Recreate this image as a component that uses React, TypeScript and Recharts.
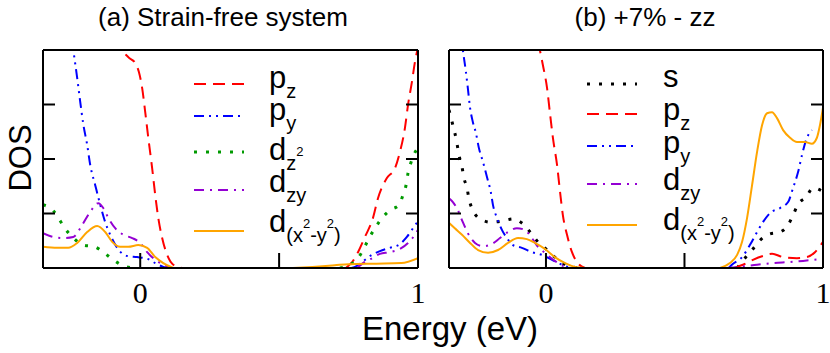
import { LineChart, Line, XAxis, YAxis, Legend } from 'recharts';

type Seg = { t: string; k: 'b' | 'sub' | 'sup' };
type Row = [number, number | null];

const energyDomain = [-0.35, 1];
const energyTicks = [0, 0.5, 1];
const energyLabels: Record<number, string> = { 0: '0', 0.5: '', 1: '1' };
const dosDomain = [0, 4];
const dosTicks = [0, 1, 2, 3, 4];

const titleA = '(a) Strain-free system';
const titleB = '(b) +7% - zz';
const xTitle = 'Energy (eV)';
const yTitle = 'DOS';

// (a) strain-free: [energy, dos], null splits the gap
const aPz: Row[] = [
  [-0.08, 4.6], [-0.061, 4.0], [-0.043, 3.87], [-0.018, 3.76], [-0.005, 3.6], [0.007, 3.3],
  [0.018, 2.86], [0.029, 2.39], [0.043, 1.83], [0.054, 1.34], [0.065, 0.92], [0.079, 0.55],
  [0.097, 0.24], [0.119, 0.06], [0.15, 0], [0.4, null],
  [0.74, 0], [0.763, 0.11], [0.784, 0.29], [0.809, 0.57], [0.838, 0.92], [0.856, 1.28],
  [0.888, 1.65], [0.917, 1.83], [0.935, 2.13], [0.953, 2.57], [0.964, 2.99], [0.978, 3.41],
  [0.989, 3.78], [1.0, 4.05],
];
const aPy: Row[] = [
  [-0.26, 4.7], [-0.241, 4.0], [-0.227, 3.49], [-0.216, 3.05], [-0.205, 2.64], [-0.191, 2.26],
  [-0.18, 1.89], [-0.162, 1.52], [-0.144, 1.16], [-0.126, 0.84], [-0.108, 0.61], [-0.083, 0.37],
  [-0.047, 0.22], [-0.011, 0.2], [0.025, 0.17], [0.054, 0.09], [0.083, 0.02], [0.1, 0], [0.4, null],
  [0.76, 0], [0.773, 0.02], [0.799, 0.11], [0.827, 0.22], [0.863, 0.31], [0.899, 0.37],
  [0.935, 0.44], [0.96, 0.57], [0.982, 0.73], [1.0, 0.86],
];
const aDz2: Row[] = [
  [-0.35, 1.16], [-0.313, 1.05], [-0.29, 0.88], [-0.27, 0.72], [-0.24, 0.55], [-0.205, 0.42],
  [-0.165, 0.39], [-0.13, 0.28], [-0.097, 0.15], [-0.061, 0.04], [-0.02, 0], [0.4, null],
  [0.719, 0], [0.755, 0.06], [0.784, 0.18], [0.806, 0.37], [0.824, 0.55], [0.845, 0.73],
  [0.871, 0.92], [0.899, 1.06], [0.932, 1.16], [0.946, 1.34], [0.957, 1.52], [0.964, 1.74],
  [0.975, 1.94], [0.99, 2.13], [1.0, 2.2],
];
const aDzy: Row[] = [
  [-0.35, 0.64], [-0.313, 0.57], [-0.277, 0.55], [-0.241, 0.57], [-0.209, 0.79], [-0.18, 1.03],
  [-0.151, 1.19], [-0.133, 1.1], [-0.115, 0.92], [-0.09, 0.73], [-0.061, 0.61], [-0.029, 0.55],
  [0, 0.46], [0.025, 0.29], [0.054, 0.15], [0.083, 0.06], [0.108, 0], [0.4, null],
  [0.78, 0], [0.802, 0.09], [0.835, 0.18], [0.863, 0.26], [0.899, 0.29], [0.935, 0.35],
  [0.964, 0.46], [0.989, 0.61], [1.0, 0.7],
];
const aDx2y2: Row[] = [
  [-0.35, 0.39], [-0.299, 0.37], [-0.259, 0.37], [-0.227, 0.46], [-0.191, 0.66], [-0.155, 0.77],
  [-0.126, 0.66], [-0.101, 0.48], [-0.072, 0.39], [-0.043, 0.39], [-0.007, 0.42], [0.025, 0.37],
  [0.054, 0.2], [0.083, 0.09], [0.119, 0], [0.4, null],
  [0.55, 0], [0.62, 0.02], [0.7, 0.05], [0.75, 0.07], [0.85, 0.08], [0.94, 0.09], [1.0, 0.18],
];

// (b) +7% zz strain
const bS: Row[] = [
  [-0.35, 2.9], [-0.339, 2.68], [-0.329, 2.48], [-0.321, 2.28], [-0.314, 2.07], [-0.303, 1.85],
  [-0.296, 1.65], [-0.285, 1.47], [-0.278, 1.27], [-0.264, 1.06], [-0.238, 0.9], [-0.199, 0.84],
  [-0.159, 0.86], [-0.119, 0.9], [-0.083, 0.81], [-0.054, 0.64], [-0.029, 0.48], [0, 0.35],
  [0.032, 0.2], [0.061, 0.09], [0.094, 0.02], [0.12, 0], [0.4, null],
  [0.69, 0], [0.718, 0.18], [0.747, 0.35], [0.773, 0.51], [0.805, 0.62], [0.845, 0.66],
  [0.874, 0.79], [0.892, 0.97], [0.91, 1.17], [0.939, 1.3], [0.964, 1.47], [1.0, 1.4],
];
const bPz: Row[] = [
  [-0.04, 4.5], [-0.022, 4.0], [-0.011, 3.72], [0.004, 3.3], [0.014, 2.86], [0.025, 2.39],
  [0.04, 1.89], [0.051, 1.39], [0.061, 0.97], [0.076, 0.61], [0.094, 0.29], [0.112, 0.11],
  [0.141, 0], [0.4, null],
  [0.68, 0], [0.69, 0.02], [0.711, 0.06], [0.747, 0.15], [0.783, 0.22], [0.816, 0.26],
  [0.856, 0.2], [0.906, 0.18], [0.942, 0.2], [0.971, 0.29], [1.0, 0.48],
];
const bPy: Row[] = [
  [-0.31, 4.4], [-0.3, 4.0], [-0.289, 3.6], [-0.282, 3.3], [-0.274, 2.94], [-0.264, 2.68],
  [-0.253, 2.48], [-0.242, 2.2], [-0.227, 1.94], [-0.213, 1.67], [-0.199, 1.39], [-0.191, 1.15],
  [-0.177, 0.92], [-0.159, 0.7], [-0.141, 0.55], [-0.119, 0.42], [-0.087, 0.37], [-0.051, 0.29],
  [-0.014, 0.24], [0.022, 0.15], [0.058, 0.06], [0.079, 0.02], [0.1, 0], [0.4, null],
  [0.66, 0], [0.671, 0.06], [0.708, 0.2], [0.736, 0.42], [0.762, 0.66], [0.783, 0.84],
  [0.809, 1.01], [0.845, 1.1], [0.874, 1.21], [0.892, 1.47], [0.91, 1.76], [0.924, 2.07],
  [0.939, 2.35], [0.96, 2.53],
];
const bDzy: Row[] = [
  [-0.35, 1.28], [-0.336, 1.21], [-0.318, 1.06], [-0.3, 0.84], [-0.282, 0.64], [-0.256, 0.46],
  [-0.227, 0.4], [-0.195, 0.44], [-0.166, 0.55], [-0.137, 0.66], [-0.105, 0.73], [-0.076, 0.7],
  [-0.051, 0.55], [-0.029, 0.39], [-0.004, 0.28], [0.032, 0.13], [0.061, 0.04], [0.094, 0],
  [0.4, null],
  [0.653, 0], [0.7, 0.02], [0.762, 0.06], [0.82, 0.09], [0.881, 0.11], [0.928, 0.13],
  [0.964, 0.15], [1.0, 0.17],
];
const bDx2y2: Row[] = [
  [-0.35, 0.83], [-0.329, 0.73], [-0.303, 0.61], [-0.274, 0.46], [-0.245, 0.33], [-0.209, 0.28],
  [-0.173, 0.33], [-0.137, 0.46], [-0.101, 0.55], [-0.069, 0.53], [-0.04, 0.46], [-0.004, 0.35],
  [0.032, 0.2], [0.069, 0.09], [0.105, 0.02], [0.141, 0], [0.4, null],
  [0.628, 0], [0.664, 0.09], [0.69, 0.24], [0.708, 0.48], [0.726, 0.92], [0.744, 1.52],
  [0.762, 2.13], [0.78, 2.62], [0.798, 2.84], [0.816, 2.86], [0.834, 2.75], [0.856, 2.53],
  [0.881, 2.39], [0.906, 2.31], [0.935, 2.31], [0.96, 2.28], [0.978, 2.39], [0.989, 2.62],
  [1.0, 2.94],
];

const orbitals: Record<string, { color: string; dash?: string; width: number; label: Seg[] }> = {
  s: { color: '#000000', dash: '3 9', width: 3, label: [{ t: 's', k: 'b' }] },
  pz: { color: '#ff0000', dash: '12 7', width: 2, label: [{ t: 'p', k: 'b' }, { t: 'z', k: 'sub' }] },
  py: { color: '#0000ff', dash: '10 5 2 5 2 5', width: 2, label: [{ t: 'p', k: 'b' }, { t: 'y', k: 'sub' }] },
  dz2: {
    color: '#009a00', dash: '3 9', width: 3,
    label: [{ t: 'd', k: 'b' }, { t: 'z', k: 'sub' }, { t: '2', k: 'sup' }],
  },
  dzy: { color: '#9400d3', dash: '10 6 2 6', width: 2, label: [{ t: 'd', k: 'b' }, { t: 'zy', k: 'sub' }] },
  dx2y2: {
    color: '#ffa500', width: 2,
    label: [
      { t: 'd', k: 'b' }, { t: '(x', k: 'sub' }, { t: '2', k: 'sup' },
      { t: '-y', k: 'sub' }, { t: '2', k: 'sup' }, { t: ')', k: 'sub' },
    ],
  },
};

const panelA = [
  { key: 'pz', rows: aPz }, { key: 'py', rows: aPy }, { key: 'dz2', rows: aDz2 },
  { key: 'dzy', rows: aDzy }, { key: 'dx2y2', rows: aDx2y2 },
];
const panelB = [
  { key: 's', rows: bS }, { key: 'pz', rows: bPz }, { key: 'py', rows: bPy },
  { key: 'dzy', rows: bDzy }, { key: 'dx2y2', rows: bDx2y2 },
];

const legendA = { left: 190, x1: 4, x2: 54, tx: 79, lineY: [29, 61, 97, 135, 176], baseY: [33, 65, 105, 137, 177] };
const legendB = { left: 155, x1: 7, x2: 57, tx: 83, lineY: [29, 59, 91, 129, 170], baseY: [32, 65, 98, 135, 175] };

const sans = "'Liberation Sans', Arial, sans-serif";
const serif = "'Liberation Serif', 'Times New Roman', serif";
const frame = { stroke: '#000', strokeWidth: 2 };
const noLabel = () => '';
const segSize = { b: 31, sub: 20, sup: 13 };
const segShift = { b: 0, sub: 10, sup: -4 };

function EnergyTick(props: any) {
  const { x, y, payload } = props;
  return (
    <text
      x={x} y={y} dy={21} textAnchor="middle" fill="#000"
      style={{ fontSize: '30px', fontFamily: serif }}
    >
      {energyLabels[payload.value] ?? String(payload.value)}
    </text>
  );
}

function LegendBox({ items, lay }: { items: typeof panelA; lay: typeof legendA }) {
  return (
    <svg width={170} height={200} style={{ display: 'block' }}>
      {items.map((it, i) => {
        const o = orbitals[it.key];
        const y = lay.lineY[i];
        const base = lay.baseY[i];
        return (
          <g key={it.key}>
            <line x1={lay.x1} x2={lay.x2} y1={y} y2={y} stroke={o.color} strokeWidth={o.width} strokeDasharray={o.dash} />
            <text x={lay.tx} fontFamily={sans} fill="#000">
              {o.label.map((s, j) => (
                <tspan key={j} y={base + segShift[s.k]} fontSize={segSize[s.k]}>{s.t}</tspan>
              ))}
            </text>
          </g>
        );
      })}
    </svg>
  );
}

function Panel({ items, lay, width, marginLeft }: { items: typeof panelA; lay: typeof legendA; width: number; marginLeft: number }) {
  return (
    <LineChart width={width} height={353} margin={{ top: 49, right: 6, bottom: 84, left: marginLeft - 1 }}>
      <XAxis
        xAxisId="bottom" type="number" dataKey="e" domain={energyDomain} ticks={energyTicks} interval={0}
        allowDataOverflow height={1} tickSize={-15} tickMargin={29} axisLine={frame} tickLine={frame}
        fontSize={30} tick={<EnergyTick />}
      />
      <XAxis
        xAxisId="top" orientation="top" type="number" domain={energyDomain} ticks={energyTicks} interval={0}
        allowDataOverflow height={1} tickSize={-15} tickFormatter={noLabel} axisLine={frame} tickLine={frame}
      />
      <YAxis
        yAxisId="left" type="number" domain={dosDomain} ticks={dosTicks} interval={0} allowDataOverflow
        width={1} tickSize={-12} tickFormatter={noLabel} axisLine={frame} tickLine={frame}
      />
      <YAxis
        yAxisId="right" orientation="right" type="number" domain={dosDomain} ticks={dosTicks} interval={0}
        allowDataOverflow width={1} tickSize={-12} tickFormatter={noLabel} axisLine={frame} tickLine={frame}
      />
      {items.map((it) => {
        const o = orbitals[it.key];
        return (
          <Line
            key={it.key} xAxisId="bottom" yAxisId="left" type="monotone"
            data={it.rows.map(([e, v]) => ({ e, v }))} dataKey="v" name={it.key}
            stroke={o.color} strokeWidth={o.width} strokeDasharray={o.dash}
            dot={false} activeDot={false} isAnimationActive={false}
          />
        );
      })}
      <Legend
        layout="vertical" align="center" verticalAlign="middle" width={170} height={200}
        wrapperStyle={{ left: lay.left, top: 55, width: 170, height: 200 }}
        content={() => <LegendBox items={items} lay={lay} />}
      />
    </LineChart>
  );
}

export default function App() {
  return (
    <div style={{ position: 'absolute', left: 0, top: 0, width: 830, height: 353, background: '#fff', overflow: 'hidden' }}>
      <div style={{ position: 'absolute', left: 0, top: 0 }}>
        <Panel items={panelA} lay={legendA} width={425} marginLeft={43} />
      </div>
      <div style={{ position: 'absolute', left: 425, top: 0 }}>
        <Panel items={panelB} lay={legendB} width={405} marginLeft={24} />
      </div>
      <svg width={830} height={353} style={{ position: 'absolute', left: 0, top: 0, pointerEvents: 'none' }}>
        <text x={223} y={26} textAnchor="middle" fontFamily={sans} fontSize={26}>{titleA}</text>
        <text x={645} y={26} textAnchor="middle" fontFamily={sans} fontSize={26}>{titleB}</text>
        <text x={450} y={340} textAnchor="middle" fontFamily={sans} fontSize={33}>{xTitle}</text>
        <text transform="translate(31,158) rotate(-90)" textAnchor="middle" fontFamily={sans} fontSize={31}>{yTitle}</text>
      </svg>
    </div>
  );
}
